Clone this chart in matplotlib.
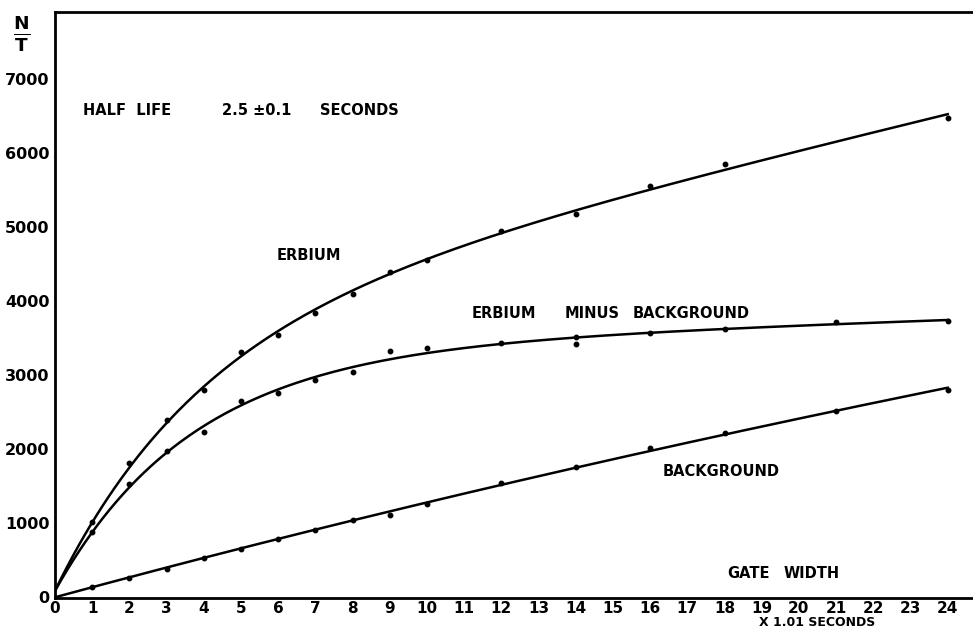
import numpy as np
import matplotlib
matplotlib.use("Agg")
import matplotlib.pyplot as plt

# gate width in units of 1.01 s
gate = [1, 2, 3, 4, 5, 6, 7, 8, 9, 10, 12, 14, 16, 18, 24]
erbium = [1010, 1810, 2390, 2800, 3310, 3540, 3840, 4090, 4390, 4550, 4950, 5180, 5550, 5850, 6470]

gate_minus = [1, 2, 3, 4, 5, 6, 7, 8, 9, 10, 12, 14, 14, 16, 18, 21, 24]
erbium_minus_bg = [880, 1530, 1970, 2230, 2650, 2760, 2930, 3040, 3320, 3360, 3430, 3510, 3420, 3570, 3620, 3720, 3730]

gate_bg = [1, 2, 3, 4, 5, 6, 7, 8, 9, 10, 12, 14, 16, 18, 21, 24]
background = [135, 255, 380, 525, 650, 785, 905, 1040, 1110, 1255, 1540, 1760, 2010, 2215, 2515, 2800]

# where the hand-drawn curves leave the y axis
curve_start = [80, 80, 0]

x_ticks = list(range(0, 25))
y_ticks = [0, 1000, 2000, 3000, 4000, 5000, 6000, 7000]

FONT = "DejaVu Sans"


def smooth_curve(x, y, y0, x_new):
    # least squares fit of a saturating + linear shape, gives a smooth drawn-by-hand style line
    x = np.concatenate([[0.0], np.asarray(x, float)])
    y = np.concatenate([[y0], np.asarray(y, float)])
    w = np.ones_like(x)
    w[0] = 3.0
    best = None
    for b in np.linspace(0.02, 1.2, 240):
        A = np.column_stack([1 - np.exp(-b * x), x, np.ones_like(x)])
        coef = np.linalg.lstsq(A * w[:, None], y * w, rcond=None)[0]
        err = np.sum(((A @ coef - y) * w) ** 2)
        if best is None or err < best[0]:
            best = (err, b, coef)
    _, b, coef = best
    return coef[0] * (1 - np.exp(-b * x_new)) + coef[1] * x_new + coef[2]


fig = plt.figure(figsize=(9.73, 6.31), dpi=100)
ax = fig.add_axes([55 / 973, 1 - 598 / 631, 1 - 55 / 973, (598 - 12) / 631])
ax.set_xlim(0, 24.68)
ax.set_ylim(-14, 7905)

xs = np.linspace(0, 24, 300)
series = [(gate, erbium), (gate_minus, erbium_minus_bg), (gate_bg, background)]
for (gx, gy), y0 in zip(series, curve_start):
    ys = smooth_curve(gx, gy, y0, xs)
    ax.plot(xs, ys, color="black", lw=1.8)
    ax.plot(gx, gy, "o", color="black", ms=3.2)

for side in ["top", "left", "bottom"]:
    ax.spines[side].set_linewidth(2)
ax.spines["right"].set_visible(False)

ax.set_xticks(x_ticks)
ax.set_xticklabels([str(t) for t in x_ticks], fontsize=11, fontweight="bold", family=FONT)
ax.set_yticks(y_ticks)
ax.set_yticklabels([str(t) for t in y_ticks], fontsize=11.5, fontweight="bold", family=FONT)
ax.tick_params(length=0)
ax.tick_params(axis="x", pad=2)
ax.tick_params(axis="y", pad=4)

kw = dict(fontsize=10.5, fontweight="bold", family=FONT, color="black", va="center")
ax.text(0.75, 6580, "HALF  LIFE", **kw)
ax.text(4.49, 6580, "2.5 \u00b10.1", **kw)
ax.text(7.12, 6580, "SECONDS", **kw)
ax.text(5.95, 4610, "ERBIUM", **kw)
ax.text(11.2, 3824, "ERBIUM", **kw)
ax.text(13.7, 3824, "MINUS", **kw)
ax.text(15.54, 3824, "BACKGROUND", **kw)
ax.text(16.34, 1690, "BACKGROUND", **kw)
ax.text(18.06, 311, "GATE", **kw)
ax.text(19.6, 311, "WIDTH", **kw)
ax.text(20.5, -340, "X 1.01 SECONDS", ha="center", clip_on=False,
        **{k: v for k, v in kw.items() if k != "fontsize"}, fontsize=9)

fig.text(22 / 973, 1 - 34 / 631, r"$\mathbf{\frac{N}{T}}$", fontsize=19, ha="center", va="center")

fig.savefig("out.png", dpi=100)
